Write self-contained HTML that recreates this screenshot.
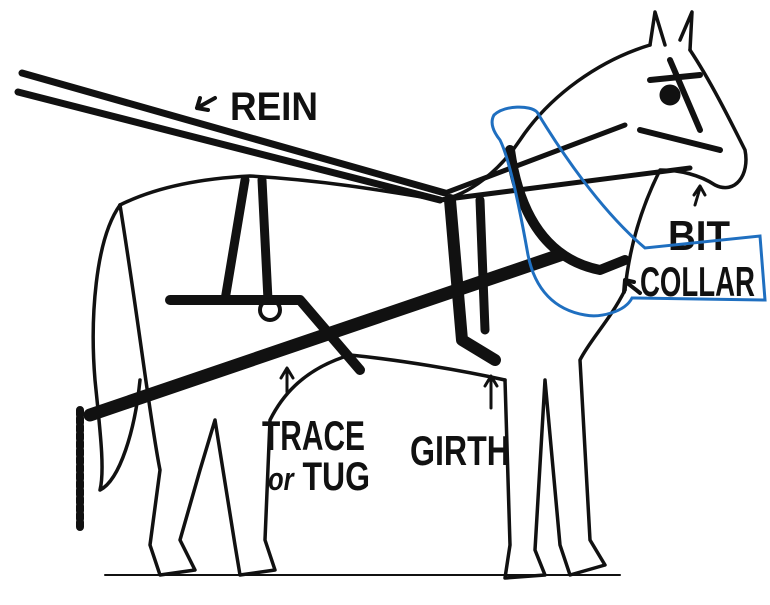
<!DOCTYPE html>
<html><head><style>
body{margin:0;background:#fff;width:770px;height:600px;overflow:hidden}
text{font-family:"Liberation Sans",sans-serif;font-weight:bold;fill:#111}
</style></head><body>
<svg width="770" height="600" viewBox="0 0 770 600" xmlns="http://www.w3.org/2000/svg">
<g fill="none" stroke="#111" stroke-linecap="round" stroke-linejoin="round">
<path d="M22 73 L445 193" stroke-width="7"/>
<path d="M18 92 L440 200" stroke-width="7"/>
<path d="M445 193 L625 125" stroke-width="5"/>
<path d="M440 200 L690 168" stroke-width="5"/>
<path d="M120 205 C160 185 210 178 250 176 C320 180 380 190 440 200 C470 195 500 170 520 140 C550 95 600 60 650 45" stroke-width="3.5"/>
<path d="M650 45 L655 12 L665 45 M680 40 L692 12 L690 50" stroke-width="3.5"/>
<path d="M690 50 C710 80 730 120 745 150 C750 175 735 195 715 185 C700 175 680 170 660 170 C645 200 630 240 625 290" stroke-width="3.5"/>
<path d="M625 290 C610 320 590 340 580 360 L590 540 L605 565 L570 575 L560 545 L545 380 L535 550 L545 575 L505 578 L510 545 L505 380" stroke-width="3.5"/>
<path d="M505 380 C460 370 400 360 350 355" stroke-width="3.5"/>
<path d="M350 355 C300 370 280 400 270 420 L265 540 L275 570 L240 575 L235 545 L215 420 L200 470 L180 540 L195 570 L160 575 L150 545 L160 470 C150 420 140 330 120 205" stroke-width="3.5"/>
<path d="M120 205 C95 240 90 320 95 380 C100 430 105 470 100 490 C120 480 135 430 140 380" stroke-width="3.5"/>
<path d="M245 180 L225 300 M262 180 L268 300" stroke-width="9"/>
<path d="M170 300 L300 300 L360 370" stroke-width="10"/>
<path d="M450 200 L462 340 L495 360" stroke-width="12"/>
<path d="M480 200 L485 330" stroke-width="9"/>
<path d="M510 150 C520 220 550 260 600 270 L625 260" stroke-width="10"/>
<path d="M90 415 L560 255" stroke-width="13"/>
<path d="M80 410 L80 530" stroke-width="8" stroke-dasharray="5 3"/>
<path d="M650 80 L700 75 M640 130 L720 150 M670 60 L700 130" stroke-width="6"/>
<circle cx="670" cy="95" r="10" fill="#111"/>
<circle cx="270" cy="310" r="10" stroke-width="4"/>
<path d="M105 575 L620 575" stroke-width="2"/>
<path d="M197 108 L215 98 M197 108 L200 98 M197 108 L208 110" stroke-width="4"/>
<path d="M287 392 L287 370 M281 378 L287 368 L293 378" stroke-width="3"/>
<path d="M491 408 L491 378 M485 386 L491 376 L497 386" stroke-width="3"/>
<path d="M695 205 L700 188 M694 195 L700 186 L705 195" stroke-width="3"/>
<path d="M640 293 L626 282 M624 292 L625 280 L634 282" stroke-width="4"/>
</g>
<text x="230" y="120" font-size="40" textLength="88" lengthAdjust="spacingAndGlyphs">REIN</text>
<text x="262" y="450" font-size="42" textLength="103" lengthAdjust="spacingAndGlyphs">TRACE</text>
<text x="268" y="490" font-size="40" textLength="102" lengthAdjust="spacingAndGlyphs"><tspan font-style="italic" font-size="32">or</tspan> TUG</text>
<text x="410" y="465" font-size="42" textLength="100" lengthAdjust="spacingAndGlyphs">GIRTH</text>
<text x="668" y="250" font-size="42" textLength="62" lengthAdjust="spacingAndGlyphs">BIT</text>
<text x="640" y="296" font-size="42" textLength="115" lengthAdjust="spacingAndGlyphs">COLLAR</text>
<path d="M494 115 C505 105 530 105 537 112 C560 150 600 210 645 248 L760 236 L765 300 L632 298 C625 312 600 318 585 315 C555 310 535 290 528 255 C520 210 510 160 500 140 C492 130 490 122 494 115 Z" fill="none" stroke="#1f6fc0" stroke-width="3"/>
</svg>
</body></html>
